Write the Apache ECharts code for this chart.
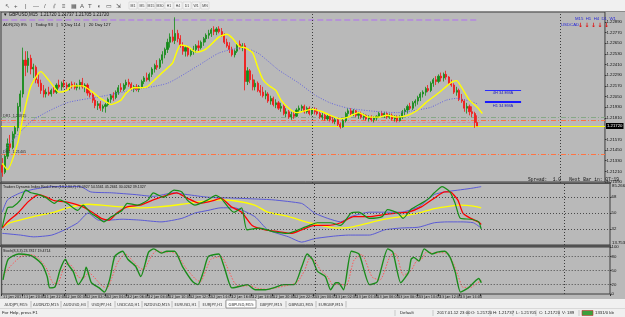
<!DOCTYPE html>
<html>
<head>
<meta charset="utf-8">
<title>GBPUSD,M15</title>
<script src="https://cdn.jsdelivr.net/npm/echarts@6/dist/echarts.min.js"></script>
<style>
  html, body { margin: 0; padding: 0; background: #f0f0f0; }
  #mt4 { width: 625px; height: 317px; }
</style>
</head>
<body>
<div id="mt4"></div>
<script>
var dom = document.getElementById('mt4');
var chart = echarts.init(dom);

// M15 bars, 11 Jan 18:00 .. 13 Jan 16:00, prices in pips above 1.2100
var openPips = [
  28, 20, 38, 52, 48, 63, 70, 94, 108, 146,
  140, 148, 136, 138, 124, 120, 112, 108, 110, 108,
  112, 110, 118, 116, 120, 118, 116, 119, 117, 115,
  118, 121, 116, 118, 109, 107, 101, 95, 97, 92,
  94, 96, 102, 106, 104, 110, 115, 113, 118, 121,
  119, 114, 116, 113, 116, 122, 126, 124, 130, 136,
  140, 138, 146, 152, 158, 166, 172, 168, 176, 170,
  162, 156, 160, 152, 156, 158, 162, 160, 166, 170,
  174, 176, 180, 178, 181, 178, 174, 166, 162, 158,
  152, 156, 164, 160, 162, 122, 134, 124, 116, 120,
  112, 110, 106, 108, 100, 103, 96, 98, 92, 94,
  86, 88, 82, 85, 83, 90, 92, 94, 88, 92,
  86, 90, 88, 86, 82, 84, 80, 83, 79, 77,
  79, 74, 71, 78, 86, 89, 86, 89, 84, 86,
  82, 84, 80, 82, 79, 81, 83, 86, 84, 86,
  82, 84, 80, 82, 78, 82, 88, 90, 94, 92,
  98, 100, 104, 108, 110, 114, 112, 120, 124, 122,
  128, 126, 130, 127, 120, 118, 110, 112, 102, 100,
  92, 94, 88, 86, 76
];
var highPips = [
  36, 40, 58, 62, 66, 72, 98, 112, 160, 156,
  156, 152, 142, 140, 130, 124, 118, 114, 116, 114,
  116, 120, 124, 122, 124, 121, 120, 122, 121, 120,
  124, 126, 120, 120, 114, 110, 104, 100, 100, 96,
  98, 104, 108, 110, 112, 118, 120, 120, 124, 125,
  121, 118, 119, 118, 124, 128, 132, 132, 138, 142,
  146, 148, 156, 160, 170, 176, 180, 194, 180, 174,
  166, 162, 162, 158, 162, 164, 168, 168, 172, 176,
  180, 182, 184, 183, 184, 182, 176, 170, 166, 161,
  158, 166, 168, 165, 165, 138, 136, 130, 124, 122,
  118, 116, 112, 110, 106, 105, 102, 100, 98, 96,
  92, 90, 88, 88, 92, 95, 96, 96, 94, 94,
  92, 93, 92, 88, 87, 86, 85, 85, 82, 81,
  80, 76, 80, 88, 92, 92, 91, 90, 88, 88,
  86, 85, 84, 84, 83, 84, 88, 89, 88, 88,
  86, 86, 84, 84, 84, 90, 92, 96, 98, 100,
  102, 106, 110, 112, 116, 118, 122, 126, 128, 130,
  132, 132, 134, 128, 124, 120, 116, 114, 108, 102,
  98, 96, 94, 88, 84
];
var lowPips = [
  15, 18, 35, 44, 46, 58, 66, 88, 104, 128,
  132, 130, 126, 120, 116, 108, 104, 104, 106, 105,
  108, 108, 114, 112, 115, 113, 112, 114, 113, 112,
  113, 114, 110, 106, 104, 98, 92, 90, 89, 88,
  87, 94, 98, 100, 102, 107, 110, 111, 114, 116,
  112, 110, 111, 110, 114, 119, 122, 122, 127, 132,
  135, 136, 142, 148, 154, 160, 166, 164, 166, 160,
  152, 150, 150, 150, 152, 154, 156, 158, 162, 166,
  170, 172, 174, 174, 176, 172, 164, 160, 154, 150,
  149, 154, 158, 156, 112, 118, 120, 112, 112, 110,
  106, 104, 102, 98, 96, 94, 92, 90, 88, 84,
  82, 80, 79, 80, 82, 86, 88, 86, 86, 84,
  84, 85, 84, 80, 79, 78, 78, 77, 75, 74,
  72, 69, 70, 76, 82, 84, 83, 82, 80, 80,
  79, 78, 77, 77, 76, 78, 81, 82, 81, 80,
  80, 78, 77, 76, 77, 80, 84, 86, 90, 90,
  94, 96, 100, 104, 106, 110, 110, 116, 118, 120,
  122, 122, 124, 118, 116, 108, 106, 100, 98, 88,
  86, 84, 82, 70, 72
];
var closePips = [
  20, 38, 52, 48, 63, 70, 94, 108, 146, 140,
  148, 136, 138, 124, 120, 112, 108, 110, 108, 112,
  110, 118, 116, 120, 118, 116, 119, 117, 115, 118,
  121, 116, 118, 109, 107, 101, 95, 97, 92, 94,
  96, 102, 106, 104, 110, 115, 113, 118, 121, 119,
  114, 116, 113, 116, 122, 126, 124, 130, 136, 140,
  138, 146, 152, 158, 166, 172, 168, 176, 170, 162,
  156, 160, 152, 156, 158, 162, 160, 166, 170, 174,
  176, 180, 178, 181, 178, 174, 166, 162, 158, 152,
  156, 164, 160, 162, 122, 134, 124, 116, 120, 112,
  110, 106, 108, 100, 103, 96, 98, 92, 94, 86,
  88, 82, 85, 83, 90, 92, 94, 88, 92, 86,
  90, 88, 86, 82, 84, 80, 83, 79, 77, 79,
  74, 71, 78, 86, 89, 86, 89, 84, 86, 82,
  84, 80, 82, 79, 81, 83, 86, 84, 86, 82,
  84, 80, 82, 78, 82, 88, 90, 94, 92, 98,
  100, 104, 108, 110, 114, 112, 120, 124, 122, 128,
  126, 130, 127, 120, 118, 110, 112, 102, 100, 92,
  94, 88, 86, 76, 72
];

// moving averages on the price panel, [bar, pips]
var fastMA = [[0, 30], [2, 23], [6, 53], [8, 82], [11, 116], [14, 131], [15, 133], [17, 127], [20, 116], [22, 110],
  [25, 112], [27, 117], [31, 117], [35, 110], [38, 103], [41, 98], [42, 96], [46, 101], [48, 109], [51, 115],
  [53, 115], [56, 116], [58, 121], [62, 132], [66, 143], [69, 163], [72, 161], [75, 155], [78, 157], [80, 161],
  [84, 172], [87, 175], [89, 171], [92, 161], [94, 160], [97, 154], [99, 138], [101, 124], [103, 118], [106, 112],
  [108, 101], [111, 92], [114, 87], [116, 88], [120, 91], [124, 88], [127, 84], [131, 80], [134, 82], [138, 87],
  [142, 82], [146, 82], [149, 84], [153, 82], [157, 84], [161, 90], [164, 98], [169, 109], [174, 121], [176, 123],
  [178, 115], [181, 101], [184, 93], [186, 86]];
var slowMA = [[0, 40], [3, 53], [12, 79], [25, 98], [38, 105], [50, 112], [64, 120], [76, 140], [84, 154], [93, 160],
  [99, 154], [107, 135], [115, 120], [121, 107], [127, 98], [134, 92], [146, 88], [153, 87], [161, 90], [166, 93],
  [172, 101], [176, 103], [181, 100], [184, 97]];

// Traders Dynamic Index, [bar, value]
var tdiUpper = [[0, 51], [2, 65], [7, 73], [12, 77], [19, 80], [24, 80], [30, 80], [34, 74], [42, 73], [51, 71],
  [58, 69], [66, 73], [71, 71], [79, 68], [89, 67], [97, 66], [104, 65], [115, 61], [117, 57], [120, 50],
  [125, 44], [130, 40], [134, 46], [141, 51], [147, 51], [153, 51], [160, 57], [166, 71], [170, 74], [175, 76],
  [180, 78], [184, 80]];
var tdiLower = [[0, 27], [7, 25], [12, 23], [19, 25], [24, 31], [29, 39], [33, 50], [37, 42], [41, 42], [46, 43],
  [53, 42], [61, 40], [69, 44], [74, 50], [79, 53], [84, 56], [89, 56], [97, 46], [102, 31], [110, 23],
  [115, 17], [120, 21], [128, 24], [133, 25], [141, 25], [147, 31], [153, 33], [160, 34], [166, 39], [171, 40],
  [176, 40], [181, 39], [184, 33]];
var tdiBase = [[0, 34], [3, 39], [12, 46], [20, 51], [25, 56], [33, 60], [38, 59], [46, 57], [53, 56], [60, 57],
  [69, 60], [76, 63], [83, 65], [89, 64], [97, 59], [102, 51], [110, 46], [118, 39], [128, 33], [134, 34],
  [141, 39], [147, 43], [153, 46], [160, 50], [166, 55], [172, 58], [176, 59], [181, 58], [184, 56]];
var tdiSignal = [[0, 33], [2, 40], [6, 50], [10, 63], [14, 71], [17, 68], [20, 64], [24, 63], [27, 61], [31, 57],
  [35, 50], [38, 44], [41, 42], [44, 50], [48, 57], [53, 59], [58, 65], [64, 71], [67, 73], [71, 67],
  [76, 61], [81, 64], [84, 67], [88, 57], [92, 51], [96, 36], [101, 31], [106, 29], [111, 27], [115, 31],
  [120, 36], [125, 36], [130, 39], [135, 46], [141, 46], [146, 48], [151, 50], [156, 51], [161, 57], [166, 67],
  [170, 74], [172, 74], [175, 65], [177, 50], [180, 44], [183, 40], [184, 37]];
var tdiRsi = [[0, 34], [2, 56], [4, 57], [7, 65], [9, 76], [11, 73], [14, 71], [17, 67], [20, 61], [22, 65],
  [25, 61], [29, 53], [31, 59], [34, 50], [37, 44], [39, 40], [42, 46], [46, 53], [48, 61], [52, 59],
  [56, 65], [58, 73], [62, 68], [66, 76], [69, 74], [71, 65], [74, 59], [79, 65], [82, 70], [84, 67],
  [87, 56], [89, 51], [92, 56], [94, 31], [99, 33], [104, 29], [110, 27], [112, 29], [118, 36], [121, 39],
  [126, 39], [130, 36], [134, 50], [137, 51], [141, 44], [146, 46], [148, 54], [152, 50], [154, 44], [157, 54],
  [161, 61], [164, 67], [166, 73], [169, 80], [172, 74], [174, 61], [176, 44], [180, 43], [183, 40], [184, 32]];

// Stochastic(8,3,3), [bar, value]
var stochMain = [[0, 30], [2, 74], [6, 85], [10, 83], [12, 78], [15, 63], [17, 37], [18, 13], [20, 15], [22, 52],
  [24, 74], [25, 63], [27, 48], [29, 20], [31, 37], [32, 57], [34, 24], [37, 13], [39, 4], [41, 30],
  [43, 80], [46, 91], [48, 74], [51, 59], [53, 37], [56, 89], [58, 96], [61, 87], [63, 91], [66, 91],
  [69, 59], [73, 26], [75, 20], [77, 46], [79, 80], [83, 85], [85, 59], [88, 13], [90, 15], [94, 20],
  [97, 9], [101, 9], [104, 13], [108, 20], [112, 20], [115, 59], [117, 85], [119, 74], [121, 48], [124, 37],
  [126, 9], [128, 24], [129, 24], [131, 9], [134, 91], [137, 85], [141, 20], [144, 26], [148, 96], [150, 89],
  [153, 24], [156, 46], [157, 74], [158, 78], [160, 70], [162, 96], [165, 85], [167, 89], [170, 91], [172, 78],
  [174, 46], [176, 4], [179, 13], [181, 24], [183, 33], [184, 24]];
var stochSignal = [[0, 40], [3, 60], [7, 80], [11, 84], [14, 74], [17, 52], [19, 25], [21, 22], [23, 50], [25, 66],
  [27, 56], [29, 36], [31, 34], [33, 46], [35, 36], [38, 18], [40, 12], [42, 36], [44, 66], [47, 86],
  [49, 76], [52, 58], [54, 52], [57, 80], [59, 92], [62, 88], [64, 90], [67, 84], [70, 58], [74, 32],
  [76, 26], [78, 50], [80, 74], [84, 80], [86, 60], [89, 24], [91, 16], [95, 18], [98, 12], [102, 10],
  [105, 13], [109, 18], [113, 24], [116, 50], [118, 76], [120, 70], [122, 52], [125, 36], [127, 18], [129, 22],
  [132, 18], [135, 72], [138, 84], [142, 36], [145, 30], [149, 82], [151, 86], [154, 40], [157, 50], [159, 70],
  [161, 74], [163, 90], [166, 86], [168, 88], [171, 86], [173, 68], [175, 40], [177, 14], [180, 14], [182, 22],
  [184, 28]];

// axis labels
var priceTicks = [1.2289, 1.2277, 1.2265, 1.2253, 1.2241, 1.2229, 1.2217, 1.2205, 1.2193, 1.2181,
  1.2157, 1.2145, 1.2133, 1.2121, 1.2109];
var tdiTicks = [68, 50, 32];
var stochTicks = [100, 80, 50, 20, 0];
var timeLabels = ['11 Jan 2017', '11 Jan 20:00', '11 Jan 22:00', '12 Jan 00:00', '12 Jan 02:00', '12 Jan 04:00',
  '12 Jan 06:00', '12 Jan 08:00', '12 Jan 10:00', '12 Jan 12:00', '12 Jan 14:00', '12 Jan 16:00',
  '12 Jan 18:00', '12 Jan 20:00', '12 Jan 22:00', '13 Jan 00:00', '13 Jan 02:00', '13 Jan 04:00',
  '13 Jan 06:00', '13 Jan 08:00', '13 Jan 10:00', '13 Jan 12:00', '13 Jan 14:00', '13 Jan 16:00'];
var tabs = ['AUDJPY,M15', 'AUDNZD,M15', 'AUDUSD,H4', 'USDJPY,H4', 'USDCAD,H1', 'NZDUSD,M15',
  'EURUSD,H1', 'EURJPY,H1', 'GBPUSD,M15', 'GBPJPY,M15', 'GBPAUD,M15', 'EURGBP,M15'];

var slotCount = 234;   // visible bar slots incl. empty right margin
var separators = [24, 120, 216];

function toPrice(p) { return +(1.21 + p / 10000).toFixed(5); }

var categories = [];
for (var k = 0; k < slotCount; k++) categories.push(k);

var candles = openPips.map(function (o, i) {
  return [toPrice(o), toPrice(closePips[i]), toPrice(lowPips[i]), toPrice(highPips[i])];
});
var pairsToPrice = function (arr) { return arr.map(function (d) { return [d[0], toPrice(d[1])]; }); };

var FONT = '"Liberation Sans", Arial, sans-serif';
var NARROW = '"Liberation Sans Narrow", "DejaVu Sans Condensed", "Liberation Sans", sans-serif';
var GRID_BG = '#b9b9b9';

var sepLines = separators.map(function (s) {
  return { xAxis: s, lineStyle: { color: '#3c3c3c', type: [1, 2], width: 1 } };
});
function levelLines(vals) {
  return vals.map(function (v) {
    return { yAxis: v, lineStyle: { color: '#4a4a4a', type: [1, 2], width: 1 } };
  });
}
function hiddenX(gi) {
  return {
    type: 'category', gridIndex: gi, data: categories, boundaryGap: true,
    axisLine: { show: false }, axisTick: { show: false }, axisLabel: { show: false }, splitLine: { show: false }
  };
}
function line(name, data, xi, color, width, type, z) {
  return {
    name: name, type: 'line', xAxisIndex: xi, yAxisIndex: xi, data: data,
    showSymbol: false, smooth: 0.2, silent: true, z: z || 3,
    lineStyle: { color: color, width: width, type: type || 'solid' }
  };
}

// toolbar + tabs + status bar drawn as plain graphics
var graphics = [
  { type: 'rect', shape: { x: 0, y: 0, width: 625, height: 11 }, style: { fill: '#f0f0f0' }, z: 50 },
  { type: 'line', shape: { x1: 0, y1: 11.5, x2: 625, y2: 11.5 }, style: { stroke: '#8a8a8a', lineWidth: 1 }, z: 50 },
  { type: 'rect', shape: { x: 0, y: 299, width: 625, height: 18 }, style: { fill: '#f0f0f0' }, z: 50 },
  { type: 'line', shape: { x1: 0, y1: 308.5, x2: 625, y2: 308.5 }, style: { stroke: '#d8d8d8', lineWidth: 1 }, z: 50 },
  // panel separators
  { type: 'rect', shape: { x: 0, y: 182.5, width: 611, height: 1.5 }, style: { fill: '#505050' }, z: 40 },
  { type: 'rect', shape: { x: 0, y: 245, width: 611, height: 2 }, style: { fill: '#505050' }, z: 40 }
];
var toolIcons = ['↖', '+', '|', '—', '/', '⫽', '≡', '▦', 'A', 'T', '◖', '▭', '⇲'];
var toolX = [5, 14, 25, 33, 44, 53, 62, 71, 80, 88, 97, 106, 116];
toolIcons.forEach(function (t, i) {
  graphics.push({ type: 'text', x: toolX[i], y: 6, z: 51,
    style: { text: t, fill: '#505050', font: '6px ' + FONT, verticalAlign: 'middle' } });
});
['M1', 'M5', 'M15', 'M30', 'H1', 'H4', 'D1', 'W1', 'MN'].forEach(function (t, i) {
  var x = 129 + i * 9;
  graphics.push({ type: 'rect', shape: { x: x, y: 2, width: 8, height: 7 }, z: 51,
    style: { fill: '#f4f4f4', stroke: '#c8c8c8', lineWidth: 0.5 } });
  graphics.push({ type: 'text', x: x + 4, y: 6, z: 52,
    style: { text: t, fill: '#404040', font: '3.5px ' + FONT, align: 'center', verticalAlign: 'middle' } });
});
// tabs
var tabX = 1;
tabs.forEach(function (t) {
  var w = t.indexOf('M15') > 0 ? 30 : 27;
  var active = t === 'GBPUSD,M15';
  if (active) {
    graphics.push({ type: 'rect', shape: { x: tabX, y: 300, width: w, height: 8 }, z: 51,
      style: { fill: '#ffffff', stroke: '#7a7a7a', lineWidth: 0.7 } });
  } else {
    graphics.push({ type: 'line', shape: { x1: tabX + w, y1: 301, x2: tabX + w, y2: 307.5 }, z: 51,
      style: { stroke: '#9a9a9a', lineWidth: 0.6 } });
  }
  graphics.push({ type: 'text', x: tabX + w / 2, y: 304.5, z: 52,
    style: { text: t, fill: '#333', font: '4.2px ' + NARROW, align: 'center', verticalAlign: 'middle' } });
  tabX += w;
});
// status bar
[['For Help, press F1', 2], ['Default', 400], ['2017.01.12 23:00', 437], ['O: 1.21720', 471],
 ['H: 1.21737', 493], ['L: 1.21705', 516], ['C: 1.21720', 539], ['V: 189', 562], ['1331/0 kb', 595]].forEach(function (s) {
  graphics.push({ type: 'text', x: s[1], y: 313, z: 52,
    style: { text: s[0], fill: '#222', font: '4.3px ' + FONT, verticalAlign: 'middle' } });
});
[395, 433, 468, 490, 513, 536, 559, 579].forEach(function (x) {
  graphics.push({ type: 'line', shape: { x1: x, y1: 310, x2: x, y2: 316 }, z: 51,
    style: { stroke: '#b0b0b0', lineWidth: 0.6 } });
});
graphics.push({ type: 'rect', shape: { x: 582, y: 310.5, width: 11, height: 5 }, z: 52,
  style: { fill: '#3ca03c', stroke: '#c83232', lineWidth: 0.6 } });
// chart captions
var captions = [
  ['▼ GBPUSD,M15  1.21720 1.21737 1.21705 1.21720', 3, 14.5, '#111', 4.5, FONT],
  ['ADR(20) 8%   |   Today 93   |   5 Day 114   |   20 Day 127', 3, 24.5, '#111', 4.3, FONT],
  ['DR1  1.21815', 3, 116, '#333', 3.8, FONT],
  ['DS1  1.21405', 3, 152, '#333', 3.8, FONT],
  ['Spread:  1.0   Next Bar in: 07:19', 528, 179.5, '#111', 4.6, '"Liberation Mono", monospace'],
  ['Traders Dynamic Index Real-Time (13,2,34,7) 76.0927 54.5561 45.2661 30.0262 39.1327', 3, 187, '#111', 3.6, FONT],
  ['Stoch(8,3,3) 23.7817 19.4714', 3, 250.5, '#111', 3.6, FONT],
  ['M15  H1  H4  D1  W1', 575, 19, '#2828d8', 4.3, FONT],
  ['USDCAD', 561, 25, '#2828d8', 4.3, FONT],
  ['85.2664', 612, 186, '#111', 4.3, FONT],
  ['13.7532', 612, 243, '#111', 4.3, FONT]
];
captions.forEach(function (c) {
  graphics.push({ type: 'text', x: c[1], y: c[2], z: 60,
    style: { text: c[0], fill: c[3], font: c[4] + 'px ' + c[5], verticalAlign: 'middle' } });
});
[580.5, 587, 593.5, 600, 606.5].forEach(function (x) {
  graphics.push({ type: 'text', x: x, y: 25, z: 60,
    style: { text: '↓', fill: '#e01010', font: 'bold 6px "DejaVu Sans", sans-serif', align: 'center', verticalAlign: 'middle' } });
});

var axisText = { color: '#111', fontSize: 4.3, fontFamily: FONT };

option = {
  backgroundColor: GRID_BG,
  animation: false,
  grid: [
    { left: 1, top: 12, width: 609, height: 171, show: true, borderColor: '#3c3c3c', borderWidth: 1, backgroundColor: GRID_BG },
    { left: 1, top: 182, width: 609, height: 63, show: true, borderColor: '#3c3c3c', borderWidth: 1, backgroundColor: GRID_BG },
    { left: 1, top: 247, width: 609, height: 47, show: true, borderColor: '#3c3c3c', borderWidth: 1, backgroundColor: GRID_BG }
  ],
  xAxis: [
    hiddenX(0),
    hiddenX(1),
    {
      type: 'category', gridIndex: 2, data: categories, boundaryGap: true,
      axisLine: { show: false },
      axisTick: {
        show: true, length: 2, lineStyle: { color: '#333' },
        interval: function (i) { return i % 8 === 0 && i <= 184; }
      },
      axisLabel: {
        show: true, margin: 1, align: 'left', color: '#111', fontSize: 3.8, fontFamily: NARROW,
        interval: function (i) { return i % 8 === 0 && i <= 184; },
        formatter: function (v, i) { return timeLabels[i / 8] || ''; }
      },
      splitLine: { show: false }
    }
  ],
  yAxis: [
    {
      type: 'value', gridIndex: 0, position: 'right', min: 1.2108, max: 1.2300, scale: true,
      axisLine: { show: false }, splitLine: { show: false },
      axisTick: { show: true, length: 1.5, customValues: priceTicks, lineStyle: { color: '#333' } },
      axisLabel: Object.assign({ margin: 1.5, customValues: priceTicks, formatter: function (v) { return v.toFixed(5); } }, axisText)
    },
    {
      type: 'value', gridIndex: 1, position: 'right', min: 13.7532, max: 85.2664,
      axisLine: { show: false }, splitLine: { show: false },
      axisTick: { show: true, length: 1.5, customValues: tdiTicks, lineStyle: { color: '#333' } },
      axisLabel: Object.assign({ margin: 1.5, customValues: tdiTicks }, axisText)
    },
    {
      type: 'value', gridIndex: 2, position: 'right', min: 0, max: 100,
      axisLine: { show: false }, splitLine: { show: false },
      axisTick: { show: true, length: 1.5, customValues: stochTicks, lineStyle: { color: '#333' } },
      axisLabel: Object.assign({ margin: 1.5, customValues: stochTicks }, axisText)
    }
  ],
  series: [
    {
      name: 'GBPUSD,M15', type: 'candlestick', xAxisIndex: 0, yAxisIndex: 0,
      data: candles, barWidth: '62%', silent: true, z: 4,
      itemStyle: { color: '#138a17', color0: '#f21414', borderColor: '#138a17', borderColor0: '#f21414', borderWidth: 0.8 },
      markLine: {
        silent: true, symbol: ['none', 'none'], precision: 5, z: 2,
        label: { show: false },
        data: [
          { yAxis: 1.21815, lineStyle: { color: '#86a886', type: [5, 2, 1, 2], width: 1 } },
          { yAxis: 1.2178, lineStyle: { color: '#ff7444', type: [5, 2, 1, 2], width: 1 } },
          [{ coord: [0, 1.21765], lineStyle: { color: '#d28cae', type: [3, 2], width: 1 } }, { coord: [186, 1.21765] }],
          {
            yAxis: 1.2172, lineStyle: { color: '#ffff00', type: 'solid', width: 1 },
            label: { show: true, position: 'end', distance: 1, formatter: '1.21720', color: '#ffffff',
              backgroundColor: '#000000', padding: [1, 1], fontSize: 4.3, fontFamily: FONT }
          },
          { yAxis: 1.21405, lineStyle: { color: '#ff7444', type: [5, 2, 1, 2], width: 1 } },
          [{ coord: [0, 1.2291], lineStyle: { color: '#b486e0', type: [6, 3], width: 1.5 } }, { coord: [184, 1.2291] }],
          [{ coord: [187, 1.22124], lineStyle: { color: '#2a2aff', width: 1, type: 'solid' },
             label: { show: true, position: 'insideMiddleBottom', formatter: '4H 34 EMA', color: '#2020c0', fontSize: 4, distance: 1 } },
           { coord: [201, 1.22124] }],
          [{ coord: [187, 1.2199], lineStyle: { color: '#1a1aff', width: 2, type: 'solid' },
             label: { show: true, position: 'insideMiddleBottom', formatter: 'H1 34 EMA', color: '#2020c0', fontSize: 4, distance: 1.5 } },
           { coord: [201, 1.2199] }]
        ].concat(sepLines)
      }
    },
    line('Slow MA', pairsToPrice(slowMA), 0, '#6464e0', 1, [1, 1.5], 5),
    line('Fast MA', pairsToPrice(fastMA), 0, '#ffff00', 1.4, 'solid', 6),

    Object.assign(line('Upper band', tdiUpper, 1, '#5a5ad6', 1), {
      markLine: { silent: true, symbol: ['none', 'none'], label: { show: false }, data: levelLines(tdiTicks).concat(sepLines) }
    }),
    line('Lower band', tdiLower, 1, '#5a5ad6', 1),
    line('Market base', tdiBase, 1, '#ffff00', 1.3),
    line('Signal', tdiSignal, 1, '#ff0000', 1.3, 'solid', 4),
    line('RSI price', tdiRsi, 1, '#158f15', 1.2, 'solid', 5),

    Object.assign(line('Signal', stochSignal, 2, '#ff5a5a', 1, [1.5, 1.5]), {
      markLine: { silent: true, symbol: ['none', 'none'], label: { show: false }, data: levelLines([80, 50, 20]).concat(sepLines) }
    }),
    line('Main', stochMain, 2, '#1a8c1a', 1.4, 'solid', 4)
  ],
  graphic: graphics
};

if (option && typeof option === 'object') {
  chart.setOption(option, true);
}
</script>
</body>
</html>
